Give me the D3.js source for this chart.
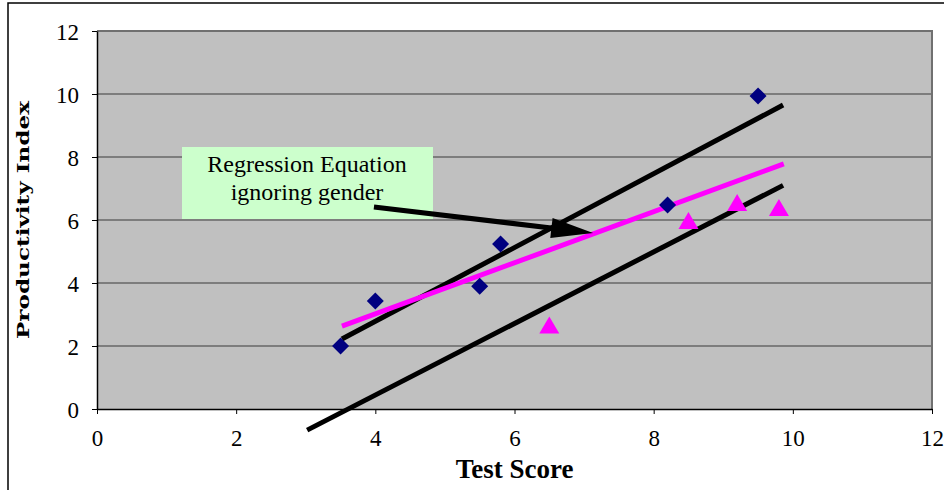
<!DOCTYPE html>
<html>
<head>
<meta charset="utf-8">
<script src="https://cdn.jsdelivr.net/npm/d3@7"></script>
<style>
  body { margin: 0; background: #fff; }
  svg { display: block; }
</style>
</head>
<body>
<div id="chart"></div>
<script>
// data
const maleX = [3.5, 4.0, 5.5, 5.8, 8.2, 9.5];
const maleY = [2.0, 3.43, 3.9, 5.24, 6.48, 9.94];
const femaleX = [6.5, 8.5, 9.2, 9.8];
const femaleY = [2.65, 5.97, 6.54, 6.38];

// fitted lines, [x0, x1] and [y0, y1]
const upperLineX = [3.52, 9.86];
const upperLineY = [2.22, 9.65];
const lowerLineX = [3.02, 9.86];
const lowerLineY = [-0.67, 7.1];
const pinkLineX = [3.52, 9.87];
const pinkLineY = [2.63, 7.78];

// annotation arrow, from text box to pink line
const arrowX = [3.98, 7.13];
const arrowY = [6.41, 5.59];

const xTicks = [0, 2, 4, 6, 8, 10, 12];
const yTicks = [0, 2, 4, 6, 8, 10, 12];

const width = 944, height = 490;
const plotLeft = 97, plotRight = 932, plotTop = 31, plotBottom = 409;
const serif = "'Liberation Serif', 'Times New Roman', serif";

const svg = d3.select("#chart").append("svg")
    .attr("width", width)
    .attr("height", height);

// outer chart frame
svg.append("rect")
    .attr("x", 8).attr("y", 3)
    .attr("width", 960).attr("height", 520)
    .attr("fill", "#fff")
    .attr("stroke", "#000")
    .attr("stroke-width", 1.5);

const x = d3.scaleLinear().domain([0, 12]).range([plotLeft, plotRight]);
const y = d3.scaleLinear().domain([0, 12]).range([plotBottom, plotTop]);

// plot area
svg.append("rect")
    .attr("x", plotLeft).attr("y", plotTop)
    .attr("width", plotRight - plotLeft).attr("height", plotBottom - plotTop)
    .attr("fill", "#c0c0c0");

svg.append("g")
    .selectAll("line")
    .data(yTicks.filter(d => d > 0 && d < 12))
    .enter()
    .append("line")
    .attr("x1", plotLeft).attr("x2", plotRight)
    .attr("y1", d => y(d)).attr("y2", d => y(d))
    .attr("stroke", "#3a3a3a")
    .attr("stroke-width", 1);

// plot border (top and right gray)
svg.append("path")
    .attr("d", `M${plotLeft},${plotTop}H${plotRight}V${plotBottom}`)
    .attr("fill", "none")
    .attr("stroke", "#707070")
    .attr("stroke-width", 2);

// axes
const xAxis = svg.append("g")
    .attr("transform", `translate(0,${plotBottom})`)
    .call(d3.axisBottom(x).tickValues(xTicks).tickSize(5).tickSizeOuter(0).tickPadding(16));
const yAxis = svg.append("g")
    .attr("transform", `translate(${plotLeft},0)`)
    .call(d3.axisLeft(y).tickValues(yTicks).tickSize(5).tickSizeOuter(0).tickPadding(13));

[xAxis, yAxis].forEach(function (g) {
    g.select(".domain").attr("stroke", "#000").attr("stroke-width", 1.5);
    g.selectAll(".tick line").attr("stroke", "#000");
    g.selectAll(".tick text")
        .attr("fill", "#000")
        .style("font-family", serif)
        .style("font-size", "23px");
});
yAxis.selectAll(".tick text").attr("dy", "0.35em");

// lines
const line = d3.line().x(d => x(d[0])).y(d => y(d[1]));
const lineSets = [
    { xs: upperLineX, ys: upperLineY, color: "#000" },
    { xs: lowerLineX, ys: lowerLineY, color: "#000" },
    { xs: pinkLineX, ys: pinkLineY, color: "#ff00ff" }
];
svg.append("g")
    .selectAll("path")
    .data(lineSets)
    .enter()
    .append("path")
    .attr("d", d => line(d3.zip(d.xs, d.ys)))
    .attr("fill", "none")
    .attr("stroke", d => d.color)
    .attr("stroke-width", 5);

// male points (diamonds)
svg.append("g")
    .selectAll("path")
    .data(d3.zip(maleX, maleY))
    .enter()
    .append("path")
    .attr("transform", d => `translate(${x(d[0])},${y(d[1])})`)
    .attr("d", "M0,-8.5L8.5,0L0,8.5L-8.5,0Z")
    .attr("fill", "#000080");

// female points (triangles)
svg.append("g")
    .selectAll("path")
    .data(d3.zip(femaleX, femaleY))
    .enter()
    .append("path")
    .attr("transform", d => `translate(${x(d[0])},${y(d[1])})`)
    .attr("d", "M0,-9L10,8L-10,8Z")
    .attr("fill", "#ff00ff");

// annotation box
const box = svg.append("g");
box.append("rect")
    .attr("x", 182).attr("y", 147)
    .attr("width", 251).attr("height", 72)
    .attr("fill", "#ccffcc");
box.selectAll("text")
    .data(["Regression Equation", "ignoring gender"])
    .enter()
    .append("text")
    .attr("x", 307)
    .attr("y", (d, i) => 172 + i * 28)
    .attr("text-anchor", "middle")
    .style("font-family", serif)
    .style("font-size", "24px")
    .attr("fill", "#000")
    .text(d => d);

// arrow
const ax0 = x(arrowX[0]), ay0 = y(arrowY[0]);
const ax1 = x(arrowX[1]), ay1 = y(arrowY[1]);
const ang = Math.atan2(ay1 - ay0, ax1 - ax0);
const headLen = 42, headHalf = 10;
const bx = ax1 - headLen * Math.cos(ang), by = ay1 - headLen * Math.sin(ang);
svg.append("line")
    .attr("x1", ax0).attr("y1", ay0)
    .attr("x2", bx + 4 * Math.cos(ang)).attr("y2", by + 4 * Math.sin(ang))
    .attr("stroke", "#000")
    .attr("stroke-width", 5);
svg.append("path")
    .attr("d", `M${ax1},${ay1}L${bx - headHalf * Math.sin(ang)},${by + headHalf * Math.cos(ang)}L${bx + headHalf * Math.sin(ang)},${by - headHalf * Math.cos(ang)}Z`)
    .attr("fill", "#000");

// axis titles
svg.append("text")
    .attr("x", x(6))
    .attr("y", 478)
    .attr("text-anchor", "middle")
    .style("font-family", serif)
    .style("font-size", "27px")
    .style("font-weight", "bold")
    .attr("fill", "#000")
    .text("Test Score");

svg.append("text")
    .attr("transform", "translate(29,220) rotate(-90)")
    .attr("text-anchor", "middle")
    .attr("textLength", 238)
    .attr("lengthAdjust", "spacingAndGlyphs")
    .style("font-family", "'DejaVu Serif', serif")
    .style("font-size", "17px")
    .style("font-weight", "bold")
    .attr("fill", "#000")
    .text("Productivity Index");
</script>
</body>
</html>
